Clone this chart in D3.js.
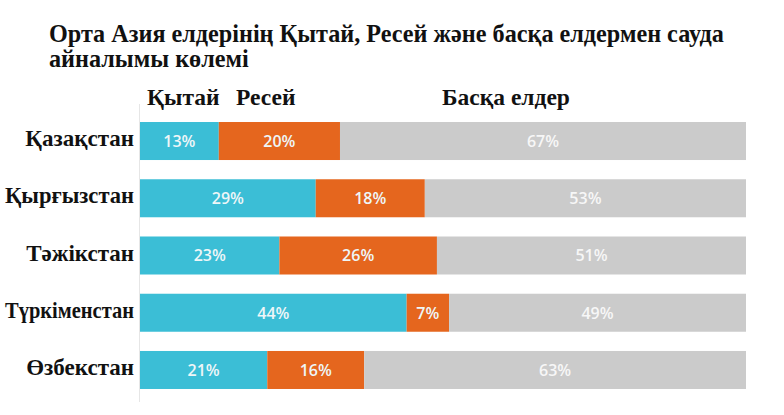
<!DOCTYPE html>
<html>
<head>
<meta charset="utf-8">
<script src="https://cdn.jsdelivr.net/npm/d3@7"></script>
<style>
  html, body { margin: 0; padding: 0; background: #fff; }
  svg { display: block; }
</style>
</head>
<body>
<svg id="chart" width="784" height="415"></svg>
<script>
const titleLines = ["Орта Азия елдерінің Қытай, Ресей және басқа елдермен сауда", "айналымы көлемі"];
const countries = ["Қазақстан", "Қырғызстан", "Тәжікстан", "Түркіменстан", "Өзбекстан"];
const seriesNames = ["Қытай", "Ресей", "Басқа елдер"];
const china = [13, 29, 23, 44, 21];
const russia = [20, 18, 26, 7, 16];
const others = [67, 53, 51, 49, 63];
const colors = ["#3bbed6", "#e5661e", "#cbcbcb"];

const svg = d3.select("#chart");
const serif = "'Liberation Serif', 'Times New Roman', serif";

svg.selectAll("text.title").data(titleLines).enter().append("text")
  .attr("class", "title")
  .attr("x", 49)
  .attr("y", (d, i) => 42 + i * 25)
  .attr("font-family", serif)
  .attr("font-weight", "bold")
  .attr("font-size", 24.2)
  .attr("fill", "#111")
  .text(d => d);

const x = d3.scaleLinear().domain([0, 100]).range([140, 746]);
const y = d3.scaleBand().domain(countries).range([112.4, 398.6]).paddingInner(0.336).paddingOuter(0.168);

// faint vertical axis
svg.append("line")
  .attr("x1", x(0) - 0.5).attr("x2", x(0) - 0.5)
  .attr("y1", 104).attr("y2", 402)
  .attr("stroke", "#e6e6e6").attr("stroke-width", 1);

// legend labels
const legendX = [147, 236, 442];
svg.selectAll("text.legend").data(seriesNames).enter().append("text")
  .attr("class", "legend")
  .attr("x", (d, i) => legendX[i])
  .attr("y", 105)
  .attr("font-family", serif)
  .attr("font-weight", "bold")
  .attr("font-size", 23.5)
  .attr("fill", "#111")
  .text(d => d);

const rows = countries.map((c, i) => ({ country: c, values: [china[i], russia[i], others[i]] }));
const stackData = rows.map(r => {
  let acc = 0;
  return r.values.map((v, k) => { const s = { country: r.country, k, v, x0: acc, x1: acc + v }; acc += v; return s; });
}).flat();

svg.selectAll("rect.seg").data(stackData).enter().append("rect")
  .attr("class", "seg")
  .attr("x", d => x(d.x0))
  .attr("y", d => y(d.country))
  .attr("width", d => x(d.x1) - x(d.x0))
  .attr("height", y.bandwidth())
  .attr("fill", d => colors[d.k]);

svg.selectAll("text.val").data(stackData).enter().append("text")
  .attr("class", "val")
  .attr("x", d => (x(d.x0) + x(d.x1)) / 2)
  .attr("y", d => y(d.country) + y.bandwidth() / 2)
  .attr("dy", "0.36em")
  .attr("text-anchor", "middle")
  .attr("font-family", "'Open Sans', sans-serif")
  .attr("font-weight", 600)
  .attr("font-size", 16)
  .attr("fill", d => d.k === 2 ? "#f7f7f7" : "#eef6f8")
  .text(d => d.v + "%");

svg.selectAll("text.country").data(countries).enter().append("text")
  .attr("class", "country")
  .attr("x", 134)
  .attr("y", d => y(d) + y.bandwidth() / 2)
  .attr("dy", "0.22em")
  .attr("text-anchor", "end")
  .attr("font-family", serif)
  .attr("font-weight", "bold")
  .attr("font-size", 23)
  .attr("fill", "#111")
  .text(d => d)
  .each(function () {
    const w = this.getComputedTextLength();
    if (w > 129) d3.select(this).attr("textLength", 129).attr("lengthAdjust", "spacingAndGlyphs");
  });
</script>
</body>
</html>
